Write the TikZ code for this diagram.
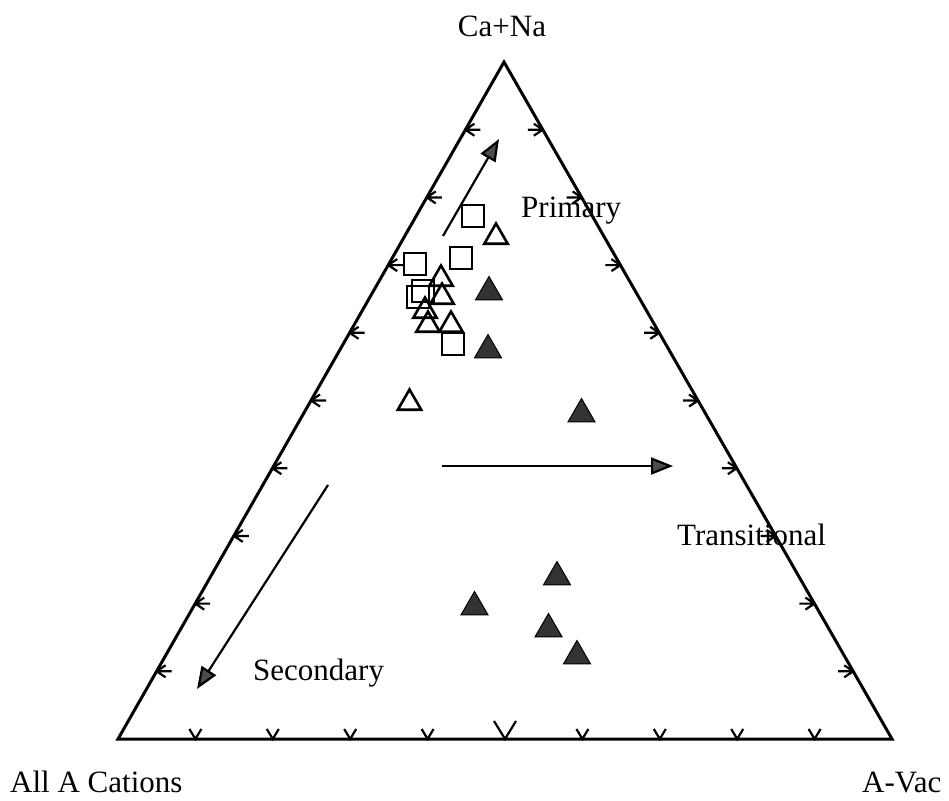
\documentclass[tikz,border=0pt]{standalone}
\usepackage{fontspec}
\setmainfont{Liberation Serif}
\usetikzlibrary{shapes.geometric,arrows.meta,calc}
\begin{document}
\begin{tikzpicture}[x=1pt,y=-1pt,
 edge/.style={line width=3pt, line join=miter},
 tickmark/.style={line width=2.2pt},
 lbl/.style={font=\fontsize{31}{36}\selectfont, inner sep=0pt},
 flow/.style={line width=2.2pt, -{Triangle[length=22pt,width=17pt,fill=black!70]}},
 osq/.style={draw, line width=2.5pt, rectangle, minimum size=22pt, inner sep=0pt},
 otri/.style={draw, line width=2.6pt, regular polygon, regular polygon sides=3, minimum size=27pt, inner sep=0pt},
 ftri/.style={draw, fill=black!80, line width=1pt, regular polygon, regular polygon sides=3, minimum size=31pt, inner sep=0pt},
]
\useasboundingbox (0,0) rectangle (949,800);

% triangle frame
\coordinate (A) at (504,62);
\coordinate (B) at (118,739);
\coordinate (C) at (892,739);
\draw[edge] (A) -- (B) -- (C) -- cycle;

% ticks
\foreach \k in {1,...,9} {
  \coordinate (L\k) at ($(B)!{\k/10}!(A)$);
  \coordinate (R\k) at ($(C)!{\k/10}!(A)$);
  \coordinate (D\k) at ($(B)!{\k/10}!(C)$);
  \draw[tickmark] (L\k) -- ++(15,0) (L\k) -- ++(9,-6) (L\k) -- ++(9,6);
  \draw[tickmark] (R\k) -- ++(-15,0) (R\k) -- ++(-9,-6) (R\k) -- ++(-9,6);
}
\foreach \k in {1,2,3,4,6,7,8,9} {
  \draw[tickmark] ($(D\k)+(-6,-10)$) -- (D\k) -- ++(6,-10);
}
\draw[tickmark] ($(D5)+(-11,-18)$) -- (D5) -- ++(11,-18);

% corner labels
\node[lbl, anchor=base] (ca) at (502,37) {Ca+Na};
\node[lbl, anchor=base west] (allA) at (10,792) {All A Cations};
\node[lbl, anchor=base west] (avac) at (862,792) {A-Vac};

% region labels
\node[lbl, anchor=base west] (prim) at (521,217) {Primary};
\node[lbl, anchor=base west] (trans) at (677,545) {Transitional};
\node[lbl, anchor=base west] (sec) at (253,680) {Secondary};

% trend arrows
\coordinate (p0) at (443,236); \coordinate (p1) at (499,139);
\coordinate (t0) at (442,466); \coordinate (t1) at (673,466);
\coordinate (s0) at (328,485); \coordinate (s1) at (197,689);
\draw[flow] (p0) -- (p1);
\draw[flow] (t0) -- (t1);
\draw[flow] (s0) -- (s1);

% open squares
\node[osq] (q1) at (473,216) {};
\node[osq] (q2) at (461,258) {};
\node[osq] (q3) at (415,264) {};
\node[osq] (q4) at (423,291) {};
\node[osq] (q5) at (418,297) {};
\node[osq] (q6) at (453,344) {};

% open triangles
\node[otri] (o1) at (496,237) {};
\node[otri] (o2) at (441,279) {};
\node[otri] (o3) at (442,297) {};
\node[otri] (o4) at (425,311) {};
\node[otri] (o5) at (428,325) {};
\node[otri] (o6) at (451,325) {};
\node[otri] (o7) at (409.5,403) {};

% filled triangles
\node[ftri] (f1) at (489,292) {};
\node[ftri] (f2) at (488,350) {};
\node[ftri] (f3) at (581.5,414) {};
\node[ftri] (f4) at (557,577) {};
\node[ftri] (f5) at (474.5,607) {};
\node[ftri] (f6) at (548.5,629) {};
\node[ftri] (f7) at (577,656) {};
\end{tikzpicture}
\end{document}
